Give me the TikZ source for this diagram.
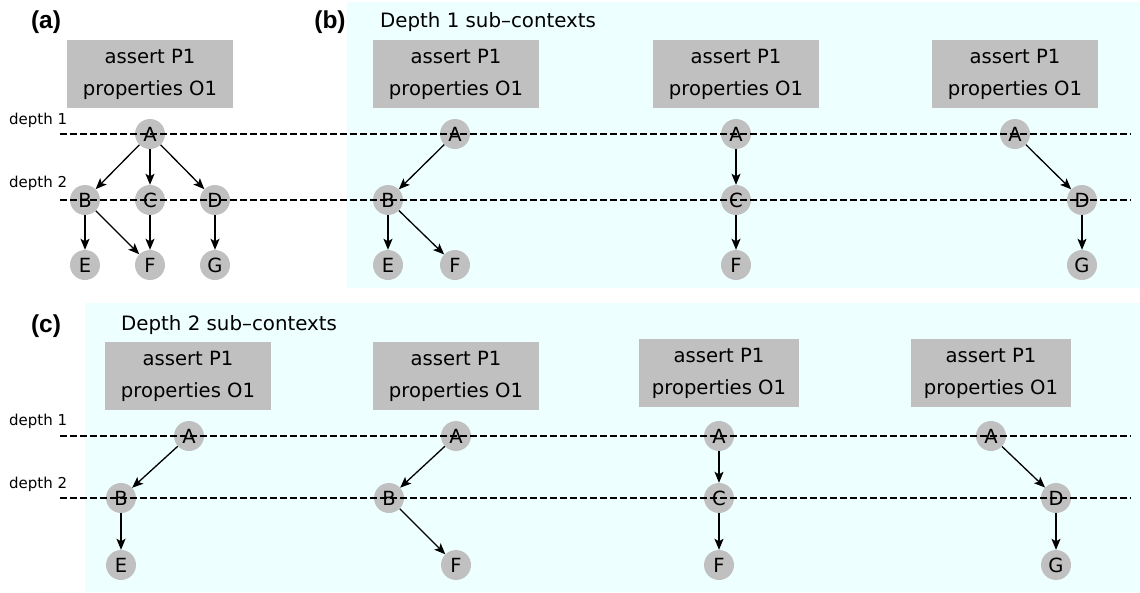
\documentclass[tikz,border=0pt]{standalone}
\usepackage{fontspec}
\setmainfont{DejaVu Sans}
\newfontfamily\panelfont{Liberation Sans}
\usetikzlibrary{arrows.meta}
\definecolor{subbg}{RGB}{238,255,255}
\definecolor{nodegray}{RGB}{192,192,192}

\begin{document}
\begin{tikzpicture}[x=1pt,y=-1pt,
  ctx/.style={fill=nodegray, minimum width=166pt, minimum height=68pt, inner sep=0pt, align=center, font=\fontsize{19.6}{32}\selectfont},
  vtx/.style={circle, fill=nodegray, minimum size=30pt, inner sep=0pt, font=\fontsize{19.5}{19.5}\selectfont},
  lvl/.style={black, line width=1.1pt, dash pattern=on 6.5pt off 3.5pt},
  edge/.style={black, line width=1.3pt, -{Stealth[length=11pt, width=9pt, inset=2.5pt]}},
  depthlabel/.style={anchor=west, inner sep=0pt, font=\fontsize{15}{15}\selectfont},
  panel/.style={inner sep=0pt, font=\panelfont\bfseries\fontsize{24.5}{24.5}\selectfont},
  title/.style={anchor=west, inner sep=0pt, font=\fontsize{19.8}{19.8}\selectfont}]
\useasboundingbox (0,0) rectangle (1140,592);
% sub-context backgrounds
\fill[subbg] (347,2) rectangle (1140,288);
\fill[subbg] (85,303) rectangle (1140,592);
\node[panel] (pa) at (46,22) {(a)};
\node[panel] (pb) at (330,22) {(b)};
\node[panel] (pc) at (46,326) {(c)};
\node[title] (tb) at (380,22) {Depth 1 sub--contexts};
\node[title] (tc) at (121,325) {Depth 2 sub--contexts};
\node[depthlabel] (ad1) at (9,120) {depth 1};
\node[depthlabel] (ad2) at (9,183) {depth 2};
\node[depthlabel] (cd1) at (9,421) {depth 1};
\node[depthlabel] (cd2) at (9,484) {depth 2};

% (a) full context
\node[ctx] (abox) at (150,74) {assert P1\\properties O1};
\node[vtx] (aA) at (150,134) {A};
\node[vtx] (aB) at (85,200) {B};
\node[vtx] (aC) at (150,200) {C};
\node[vtx] (aD) at (215,200) {D};
\node[vtx] (aE) at (85,265) {E};
\node[vtx] (aF) at (150,265) {F};
\node[vtx] (aG) at (215,265) {G};

% (b) depth 1
\node[ctx] (b1box) at (456,74) {assert P1\\properties O1};
\node[vtx] (b1A) at (455,134) {A};
\node[vtx] (b1B) at (388,200) {B};
\node[vtx] (b1E) at (388,265) {E};
\node[vtx] (b1F) at (455,265) {F};
\node[ctx] (b2box) at (736,74) {assert P1\\properties O1};
\node[vtx] (b2A) at (736,134) {A};
\node[vtx] (b2C) at (736,200) {C};
\node[vtx] (b2F) at (736,265) {F};
\node[ctx] (b3box) at (1015,74) {assert P1\\properties O1};
\node[vtx] (b3A) at (1015,134) {A};
\node[vtx] (b3D) at (1082,200) {D};
\node[vtx] (b3G) at (1082,265) {G};

% (c) depth 2
\node[ctx] (c1box) at (188,376) {assert P1\\properties O1};
\node[vtx] (c1A) at (189,436) {A};
\node[vtx] (c1B) at (121,498) {B};
\node[vtx] (c1E) at (121,565) {E};
\node[ctx] (c2box) at (456,376) {assert P1\\properties O1};
\node[vtx] (c2A) at (456,436) {A};
\node[vtx] (c2B) at (389,498) {B};
\node[vtx] (c2F) at (456,565) {F};
\node[ctx, minimum width=160pt] (c3box) at (719,373) {assert P1\\properties O1};
\node[vtx] (c3A) at (719,436) {A};
\node[vtx] (c3C) at (719,498) {C};
\node[vtx] (c3F) at (719,565) {F};
\node[ctx, minimum width=160pt] (c4box) at (991,373) {assert P1\\properties O1};
\node[vtx] (c4A) at (991,436) {A};
\node[vtx] (c4D) at (1056,498) {D};
\node[vtx] (c4G) at (1056,565) {G};

% depth levels
\draw[lvl] (60,134) -- (1131,134);
\draw[lvl] (60,200) -- (1131,200);
\draw[lvl] (60,436) -- (1131,436);
\draw[lvl] (60,498) -- (1131,498);

\draw[edge] (aA) -- (aB);
\draw[edge] (aA) -- (aC);
\draw[edge] (aA) -- (aD);
\draw[edge] (aB) -- (aE);
\draw[edge] (aB) -- (aF);
\draw[edge] (aC) -- (aF);
\draw[edge] (aD) -- (aG);
\draw[edge] (b1A) -- (b1B);
\draw[edge] (b1B) -- (b1E);
\draw[edge] (b1B) -- (b1F);
\draw[edge] (b2A) -- (b2C);
\draw[edge] (b2C) -- (b2F);
\draw[edge] (b3A) -- (b3D);
\draw[edge] (b3D) -- (b3G);
\draw[edge] (c1A) -- (c1B);
\draw[edge] (c1B) -- (c1E);
\draw[edge] (c2A) -- (c2B);
\draw[edge] (c2B) -- (c2F);
\draw[edge] (c3A) -- (c3C);
\draw[edge] (c3C) -- (c3F);
\draw[edge] (c4A) -- (c4D);
\draw[edge] (c4D) -- (c4G);
\end{tikzpicture}
\end{document}
